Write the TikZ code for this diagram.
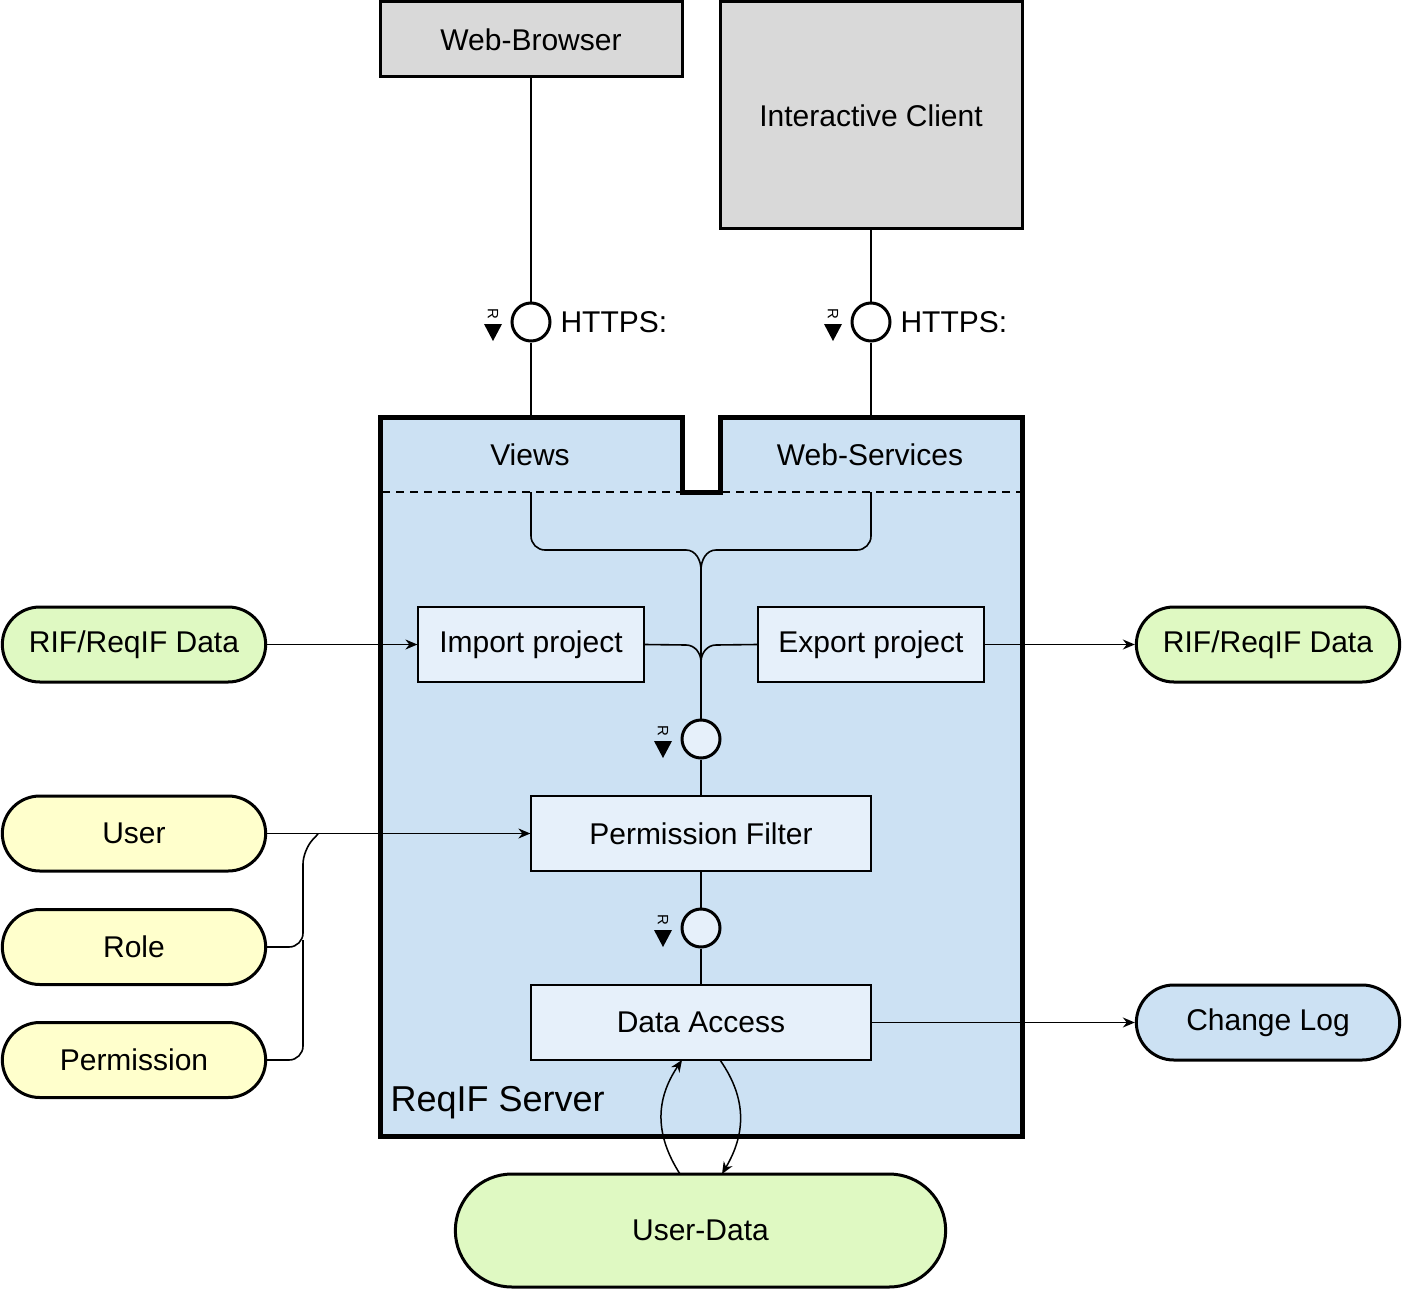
\documentclass[tikz,border=0pt]{standalone}
\usepackage{fontspec}
\setmainfont{Liberation Sans}
\usetikzlibrary{arrows.meta,shapes.misc}
\definecolor{grayfill}{HTML}{D9D9D9}
\definecolor{serverfill}{HTML}{CCE1F3}
\definecolor{innerfill}{HTML}{E6F0FA}
\definecolor{greenfill}{HTML}{DFF9C2}
\definecolor{yellowfill}{HTML}{FFFFCC}
\tikzset{
  ext/.style={draw, line width=3pt, fill=grayfill, font=\fontsize{30}{36}\selectfont},
  comp/.style={draw, line width=1.2pt, fill=innerfill, minimum width=340pt, minimum height=75pt, font=\fontsize{30}{36}\selectfont},
  subcomp/.style={draw, line width=1.2pt, fill=innerfill, minimum width=226pt, minimum height=75pt, font=\fontsize{30}{36}\selectfont},
  datastore/.style={draw, line width=3pt, rounded rectangle, minimum width=270pt, minimum height=75pt, font=\fontsize{30}{36}\selectfont},
  iface/.style={draw, circle, line width=3pt, minimum size=38pt, inner sep=0pt},
  conn/.style={line width=1.6pt},
  arr/.style={line width=1.5pt, -{Stealth[length=12pt,width=10pt]}},
  lbl/.style={font=\fontsize{30}{36}\selectfont},
  rmark/.style={font=\fontsize{15}{16}\selectfont, rotate=-90, inner sep=0pt},
}
\newcommand{\reqmark}[2]{%
  \node[rmark] at (#1,#2-8) {R};
  \fill (#1-9,#2+2) -- (#1+9,#2+2) -- (#1,#2+19) -- cycle;
}
\begin{document}
\begin{tikzpicture}[x=1pt,y=-1pt]
\useasboundingbox (0,0) rectangle (1402,1289);

% external clients
\node[ext, minimum width=302pt, minimum height=75pt] (wb) at (531,39.5) {Web-Browser};
\node[ext, minimum width=302pt, minimum height=227pt] (ic) at (871,115.5) {Interactive Client};

% server body
\draw[line width=5pt, fill=serverfill, line join=miter]
  (380,417) -- (682,417) -- (682,492) -- (720,492) -- (720,417) -- (1022,417)
  -- (1022,1136) -- (380,1136) -- cycle;
\draw[line width=1.2pt, dash pattern=on 8pt off 6pt] (382,492) -- (680,492);
\draw[line width=1.2pt, dash pattern=on 8pt off 6pt] (722,492) -- (1020,492);
\node[lbl] (views) at (530,455) {Views};
\node[lbl] (ws) at (870,455) {Web-Services};
\node[lbl, anchor=west, font=\fontsize{36}{42}\selectfont] (srv) at (387,1103) {ReqIF Server};
\coordinate (vtop) at (531,417);
\coordinate (wstop) at (871,417);
\coordinate (vbot) at (531,492);
\coordinate (wsbot) at (871,492);

% HTTPS interfaces
\node[iface, fill=white] (i1) at (531,322) {};
\node[iface, fill=white] (i2) at (871,322) {};
\node[lbl, anchor=west] (h1) at (557,322) {HTTPS:};
\node[lbl, anchor=west] (h2) at (897,322) {HTTPS:};
\reqmark{493}{322}
\reqmark{833}{322}
\draw[conn] (wb.south) -- (i1.north);
\draw[conn] (i1.south) -- (vtop);
\draw[conn] (ic.south) -- (i2.north);
\draw[conn] (i2.south) -- (wstop);

% inner components
\node[subcomp] (imp) at (531,644.5) {Import project};
\node[subcomp] (exp) at (871,644.5) {Export project};
\node[comp] (pf) at (701,833.5) {Permission Filter};
\node[comp] (da) at (701,1022.5) {Data Access};
\node[iface, fill=innerfill] (i3) at (701,739) {};
\node[iface, fill=innerfill] (i4) at (701,928) {};
\reqmark{663}{739}
\reqmark{663}{928}

% merging connectors
\draw[conn, rounded corners=14pt] (vbot) -- (531,550) -- (686,550);
\draw[conn] (686,550) to[out=0,in=90] (701,570);
\draw[conn, rounded corners=14pt] (wsbot) -- (871,550) -- (716,550);
\draw[conn] (716,550) to[out=180,in=90] (701,570);
\draw[conn] (701,570) -- (i3.north);
\draw[conn] (imp.east) -- (686,645);
\draw[conn] (686,645) to[out=0,in=90] (701,662);
\draw[conn] (exp.west) -- (716,645);
\draw[conn] (716,645) to[out=180,in=90] (701,662);
\draw[conn] (i3.south) -- (pf.north);
\draw[conn] (pf.south) -- (i4.north);
\draw[conn] (i4.south) -- (da.north);

% data stores
\node[datastore, fill=greenfill] (rifl) at (134,644.5) {RIF/ReqIF Data};
\node[datastore, fill=greenfill] (rifr) at (1268,644.5) {RIF/ReqIF Data};
\node[datastore, fill=yellowfill] (user) at (134,833.5) {User};
\node[datastore, fill=yellowfill] (role) at (134,947) {Role};
\node[datastore, fill=yellowfill] (perm) at (134,1060) {Permission};
\node[datastore, fill=serverfill] (cl) at (1268,1022.5) {Change Log};
\node[datastore, fill=greenfill, minimum width=497pt, minimum height=113pt] (ud) at (700.5,1230.5) {User-Data};

\draw[arr] (rifl.east) -- (imp.west);
\draw[arr] (exp.east) -- (rifr.west);
\draw[arr] (user.east) -- (pf.west);
\draw[arr] (da.east) -- (cl.west);

\draw[conn, rounded corners=14pt] (role.east) -- (303,947) -- (303,850) -- (318,834);
\draw[conn, rounded corners=14pt] (perm.east) -- (303,1060) -- (303,940);

% user-data loops
\draw[arr] (680,1174) .. controls (655,1135) and (655,1100) .. (682,1060);
\draw[arr] (720,1060) .. controls (748,1100) and (745,1135) .. (722,1174);
\end{tikzpicture}
\end{document}
